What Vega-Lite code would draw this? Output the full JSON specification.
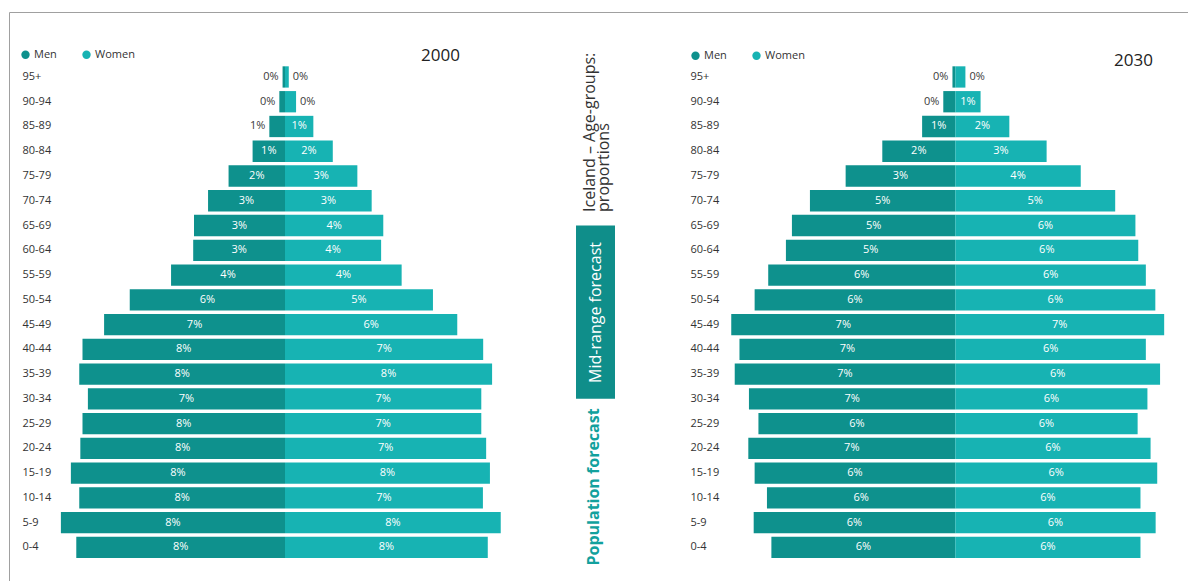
{
  "$schema": "https://vega.github.io/schema/vega-lite/v6.json",
  "width": 1179,
  "height": 569,
  "autosize": {"type": "none"},
  "padding": {"left": 9, "top": 12, "right": 0, "bottom": 0},
  "background": "white",
  "usermeta": {"embedOptions": {"actions": false}},
  "config": {
    "font": "Open Sans",
    "view": {"stroke": "#a0a0a0", "strokeWidth": 1}
  },
  "data": {
    "values": [
      {"year": 2000, "age": "95+", "sex": "Men", "value": 0.09, "label": "0%"},
      {"year": 2000, "age": "90-94", "sex": "Men", "value": 0.21, "label": "0%"},
      {"year": 2000, "age": "85-89", "sex": "Men", "value": 0.58, "label": "1%"},
      {"year": 2000, "age": "80-84", "sex": "Men", "value": 1.2, "label": "1%"},
      {"year": 2000, "age": "75-79", "sex": "Men", "value": 2.09, "label": "2%"},
      {"year": 2000, "age": "70-74", "sex": "Men", "value": 2.85, "label": "3%"},
      {"year": 2000, "age": "65-69", "sex": "Men", "value": 3.37, "label": "3%"},
      {"year": 2000, "age": "60-64", "sex": "Men", "value": 3.4, "label": "3%"},
      {"year": 2000, "age": "55-59", "sex": "Men", "value": 4.22, "label": "4%"},
      {"year": 2000, "age": "50-54", "sex": "Men", "value": 5.75, "label": "6%"},
      {"year": 2000, "age": "45-49", "sex": "Men", "value": 6.7, "label": "7%"},
      {"year": 2000, "age": "40-44", "sex": "Men", "value": 7.5, "label": "8%"},
      {"year": 2000, "age": "35-39", "sex": "Men", "value": 7.62, "label": "8%"},
      {"year": 2000, "age": "30-34", "sex": "Men", "value": 7.3, "label": "7%"},
      {"year": 2000, "age": "25-29", "sex": "Men", "value": 7.5, "label": "8%"},
      {"year": 2000, "age": "20-24", "sex": "Men", "value": 7.58, "label": "8%"},
      {"year": 2000, "age": "15-19", "sex": "Men", "value": 7.93, "label": "8%"},
      {"year": 2000, "age": "10-14", "sex": "Men", "value": 7.62, "label": "8%"},
      {"year": 2000, "age": "5-9", "sex": "Men", "value": 8.3, "label": "8%"},
      {"year": 2000, "age": "0-4", "sex": "Men", "value": 7.73, "label": "8%"},
      {"year": 2000, "age": "95+", "sex": "Women", "value": 0.14, "label": "0%"},
      {"year": 2000, "age": "90-94", "sex": "Women", "value": 0.41, "label": "0%"},
      {"year": 2000, "age": "85-89", "sex": "Women", "value": 1.05, "label": "1%"},
      {"year": 2000, "age": "80-84", "sex": "Women", "value": 1.77, "label": "2%"},
      {"year": 2000, "age": "75-79", "sex": "Women", "value": 2.68, "label": "3%"},
      {"year": 2000, "age": "70-74", "sex": "Women", "value": 3.21, "label": "3%"},
      {"year": 2000, "age": "65-69", "sex": "Women", "value": 3.64, "label": "4%"},
      {"year": 2000, "age": "60-64", "sex": "Women", "value": 3.56, "label": "4%"},
      {"year": 2000, "age": "55-59", "sex": "Women", "value": 4.32, "label": "4%"},
      {"year": 2000, "age": "50-54", "sex": "Women", "value": 5.48, "label": "5%"},
      {"year": 2000, "age": "45-49", "sex": "Women", "value": 6.38, "label": "6%"},
      {"year": 2000, "age": "40-44", "sex": "Women", "value": 7.34, "label": "7%"},
      {"year": 2000, "age": "35-39", "sex": "Women", "value": 7.67, "label": "8%"},
      {"year": 2000, "age": "30-34", "sex": "Women", "value": 7.27, "label": "7%"},
      {"year": 2000, "age": "25-29", "sex": "Women", "value": 7.27, "label": "7%"},
      {"year": 2000, "age": "20-24", "sex": "Women", "value": 7.45, "label": "7%"},
      {"year": 2000, "age": "15-19", "sex": "Women", "value": 7.59, "label": "8%"},
      {"year": 2000, "age": "10-14", "sex": "Women", "value": 7.33, "label": "7%"},
      {"year": 2000, "age": "5-9", "sex": "Women", "value": 7.99, "label": "8%"},
      {"year": 2000, "age": "0-4", "sex": "Women", "value": 7.51, "label": "8%"},
      {"year": 2030, "age": "95+", "sex": "Men", "value": 0.09, "label": "0%"},
      {"year": 2030, "age": "90-94", "sex": "Men", "value": 0.38, "label": "0%"},
      {"year": 2030, "age": "85-89", "sex": "Men", "value": 1.05, "label": "1%"},
      {"year": 2030, "age": "80-84", "sex": "Men", "value": 2.31, "label": "2%"},
      {"year": 2030, "age": "75-79", "sex": "Men", "value": 3.47, "label": "3%"},
      {"year": 2030, "age": "70-74", "sex": "Men", "value": 4.6, "label": "5%"},
      {"year": 2030, "age": "65-69", "sex": "Men", "value": 5.17, "label": "5%"},
      {"year": 2030, "age": "60-64", "sex": "Men", "value": 5.36, "label": "5%"},
      {"year": 2030, "age": "55-59", "sex": "Men", "value": 5.92, "label": "6%"},
      {"year": 2030, "age": "50-54", "sex": "Men", "value": 6.35, "label": "6%"},
      {"year": 2030, "age": "45-49", "sex": "Men", "value": 7.09, "label": "7%"},
      {"year": 2030, "age": "40-44", "sex": "Men", "value": 6.83, "label": "7%"},
      {"year": 2030, "age": "35-39", "sex": "Men", "value": 6.98, "label": "7%"},
      {"year": 2030, "age": "30-34", "sex": "Men", "value": 6.53, "label": "7%"},
      {"year": 2030, "age": "25-29", "sex": "Men", "value": 6.23, "label": "6%"},
      {"year": 2030, "age": "20-24", "sex": "Men", "value": 6.55, "label": "7%"},
      {"year": 2030, "age": "15-19", "sex": "Men", "value": 6.35, "label": "6%"},
      {"year": 2030, "age": "10-14", "sex": "Men", "value": 5.96, "label": "6%"},
      {"year": 2030, "age": "5-9", "sex": "Men", "value": 6.38, "label": "6%"},
      {"year": 2030, "age": "0-4", "sex": "Men", "value": 5.82, "label": "6%"},
      {"year": 2030, "age": "95+", "sex": "Women", "value": 0.32, "label": "0%"},
      {"year": 2030, "age": "90-94", "sex": "Women", "value": 0.8, "label": "1%"},
      {"year": 2030, "age": "85-89", "sex": "Women", "value": 1.71, "label": "2%"},
      {"year": 2030, "age": "80-84", "sex": "Women", "value": 2.89, "label": "3%"},
      {"year": 2030, "age": "75-79", "sex": "Women", "value": 3.97, "label": "4%"},
      {"year": 2030, "age": "70-74", "sex": "Women", "value": 5.06, "label": "5%"},
      {"year": 2030, "age": "65-69", "sex": "Women", "value": 5.7, "label": "6%"},
      {"year": 2030, "age": "60-64", "sex": "Women", "value": 5.79, "label": "6%"},
      {"year": 2030, "age": "55-59", "sex": "Women", "value": 6.03, "label": "6%"},
      {"year": 2030, "age": "50-54", "sex": "Women", "value": 6.33, "label": "6%"},
      {"year": 2030, "age": "45-49", "sex": "Women", "value": 6.61, "label": "7%"},
      {"year": 2030, "age": "40-44", "sex": "Women", "value": 6.03, "label": "6%"},
      {"year": 2030, "age": "35-39", "sex": "Women", "value": 6.48, "label": "6%"},
      {"year": 2030, "age": "30-34", "sex": "Women", "value": 6.08, "label": "6%"},
      {"year": 2030, "age": "25-29", "sex": "Women", "value": 5.77, "label": "6%"},
      {"year": 2030, "age": "20-24", "sex": "Women", "value": 6.18, "label": "6%"},
      {"year": 2030, "age": "15-19", "sex": "Women", "value": 6.39, "label": "6%"},
      {"year": 2030, "age": "10-14", "sex": "Women", "value": 5.86, "label": "6%"},
      {"year": 2030, "age": "5-9", "sex": "Women", "value": 6.34, "label": "6%"},
      {"year": 2030, "age": "0-4", "sex": "Women", "value": 5.86, "label": "6%"}
    ]
  },
  "layer": [
    {
      "transform": [
        {"filter": "datum.year === 2000"},
        {"calculate": "datum.sex === 'Men' ? -datum.value : datum.value", "as": "pos"},
        {"calculate": "datum.pos / 2", "as": "mid"}
      ],
      "encoding": {
        "y": {
          "field": "age",
          "type": "nominal",
          "scale": {
            "type": "band",
            "domain": ["95+", "90-94", "85-89", "80-84", "75-79", "70-74", "65-69", "60-64", "55-59", "50-54", "45-49", "40-44", "35-39", "30-34", "25-29", "20-24", "15-19", "10-14", "5-9", "0-4"],
            "range": [54.31, 546.06],
            "paddingInner": 0.14,
            "paddingOuter": 0
          },
          "axis": {
            "orient": "left",
            "title": null,
            "domain": false,
            "ticks": false,
            "tickSize": 0,
            "labelAlign": "left",
            "labelBaseline": "middle",
            "labelPadding": -13,
            "labelFontSize": 11,
            "labelColor": "#333333"
          }
        }
      },
      "layer": [
        {
          "mark": {"type": "bar"},
          "encoding": {
            "x": {"field": "pos", "type": "quantitative", "stack": null, "scale": {"domain": [-10.222, 33.444], "nice": false, "zero": false}, "axis": null},
            "color": {
              "field": "sex",
              "type": "nominal",
              "scale": {"domain": ["Men", "Women"], "range": ["#0e918d", "#17b3b3"]},
              "legend": {
                "orient": "none",
                "legendX": 11,
                "legendY": 37,
                "direction": "horizontal",
                "title": null,
                "symbolType": "circle",
                "symbolSize": 70,
                "symbolOpacity": 1,
                "symbolStrokeWidth": 0,
                "labelFontSize": 11,
                "labelColor": "#333333",
                "labelOffset": 3,
                "columnPadding": 24,
                "padding": 0
              }
            }
          }
        },
        {
          "transform": [{"filter": "datum.value >= 0.7"}],
          "mark": {"type": "text", "fontSize": 11, "fill": "#ffffff"},
          "encoding": {
            "x": {"field": "mid", "type": "quantitative", "scale": {"domain": [-10.222, 33.444], "nice": false, "zero": false}, "axis": null},
            "text": {"field": "label", "type": "nominal"}
          }
        },
        {
          "transform": [{"filter": "datum.value < 0.7 && datum.sex === 'Men'"}],
          "mark": {"type": "text", "fontSize": 11, "fill": "#3a3a3a", "align": "right", "dx": -4},
          "encoding": {
            "x": {"field": "pos", "type": "quantitative", "scale": {"domain": [-10.222, 33.444], "nice": false, "zero": false}, "axis": null},
            "text": {"field": "label", "type": "nominal"}
          }
        },
        {
          "transform": [{"filter": "datum.value < 0.7 && datum.sex === 'Women'"}],
          "mark": {"type": "text", "fontSize": 11, "fill": "#3a3a3a", "align": "left", "dx": 4},
          "encoding": {
            "x": {"field": "pos", "type": "quantitative", "scale": {"domain": [-10.222, 33.444], "nice": false, "zero": false}, "axis": null},
            "text": {"field": "label", "type": "nominal"}
          }
        },
        {
          "transform": [{"filter": "datum.sex === 'Men' && datum.age === '95+'"}],
          "mark": {"type": "text", "fontSize": 17, "fill": "#222222", "align": "right", "baseline": "middle", "dy": -20.5},
          "encoding": {
            "x": {"datum": 6.48, "type": "quantitative", "scale": {"domain": [-10.222, 33.444], "nice": false, "zero": false}, "axis": null},
            "text": {"field": "year", "type": "nominal"}
          }
        },
        {
          "transform": [{"filter": "datum.sex === 'Men' && datum.age === '95+'"}],
          "mark": {"type": "rect", "fill": "#0f8e8a"},
          "encoding": {
            "x": {"datum": 10.778, "type": "quantitative", "scale": {"domain": [-10.222, 33.444], "nice": false, "zero": false}, "axis": null},
            "x2": {"datum": 12.222},
            "y": {"datum": "65-69", "type": "nominal", "bandPosition": 0.5},
            "y2": {"datum": "30-34", "bandPosition": 0.5}
          }
        },
        {
          "transform": [{"filter": "datum.sex === 'Men' && datum.age === '95+'"}],
          "mark": {"type": "text", "text": "Iceland – Age-groups:", "angle": 270, "align": "left", "baseline": "middle", "fontSize": 16, "fill": "#333333", "dx": 13.6},
          "encoding": {
            "x": {"datum": 11.28, "type": "quantitative", "scale": {"domain": [-10.222, 33.444], "nice": false, "zero": false}, "axis": null},
            "y": {"datum": "65-69", "type": "nominal"}
          }
        },
        {
          "transform": [{"filter": "datum.sex === 'Men' && datum.age === '95+'"}],
          "mark": {"type": "text", "text": "proportions", "angle": 270, "align": "left", "baseline": "middle", "fontSize": 16, "fill": "#333333", "dx": 13.6},
          "encoding": {
            "x": {"datum": 11.8, "type": "quantitative", "scale": {"domain": [-10.222, 33.444], "nice": false, "zero": false}, "axis": null},
            "y": {"datum": "65-69", "type": "nominal"}
          }
        },
        {
          "transform": [{"filter": "datum.sex === 'Men' && datum.age === '95+'"}],
          "mark": {"type": "text", "text": "Mid-range forecast", "angle": 270, "align": "center", "baseline": "middle", "fontSize": 16, "fill": "#ffffff", "dx": -12.65},
          "encoding": {
            "x": {"datum": 11.52, "type": "quantitative", "scale": {"domain": [-10.222, 33.444], "nice": false, "zero": false}, "axis": null},
            "y": {"datum": "50-54", "type": "nominal"}
          }
        },
        {
          "transform": [{"filter": "datum.sex === 'Men' && datum.age === '95+'"}],
          "mark": {"type": "text", "text": "Population forecast", "angle": 270, "align": "center", "baseline": "middle", "fontSize": 16, "fontWeight": "bold", "fill": "#12a19d", "dx": -13.8},
          "encoding": {
            "x": {"datum": 11.444, "type": "quantitative", "scale": {"domain": [-10.222, 33.444], "nice": false, "zero": false}, "axis": null},
            "y": {"datum": "15-19", "type": "nominal"}
          }
        }
      ]
    },
    {
      "transform": [
        {"filter": "datum.year === 2030"},
        {"calculate": "datum.sex === 'Men' ? -datum.value : datum.value", "as": "pos"},
        {"calculate": "datum.pos / 2", "as": "mid"}
      ],
      "encoding": {
        "y": {
          "field": "age",
          "type": "nominal",
          "scale": {
            "type": "band",
            "domain": ["95+", "90-94", "85-89", "80-84", "75-79", "70-74", "65-69", "60-64", "55-59", "50-54", "45-49", "40-44", "35-39", "30-34", "25-29", "20-24", "15-19", "10-14", "5-9", "0-4"],
            "range": [54.31, 546.06],
            "paddingInner": 0.14,
            "paddingOuter": 0
          },
          "axis": {
            "orient": "right",
            "title": null,
            "domain": false,
            "ticks": false,
            "tickSize": 0,
            "labelAlign": "left",
            "labelBaseline": "middle",
            "labelPadding": -498,
            "labelFontSize": 11,
            "labelColor": "#333333"
          }
        }
      },
      "layer": [
        {
          "mark": {"type": "bar"},
          "encoding": {
            "x": {"field": "pos", "type": "quantitative", "stack": null, "scale": {"domain": [-29.946, 7.364], "nice": false, "zero": false}, "axis": null},
            "color": {
              "field": "sex",
              "type": "nominal",
              "scale": {"domain": ["Men", "Women"], "range": ["#0e918d", "#17b3b3"]},
              "legend": {
                "orient": "none",
                "legendX": 681,
                "legendY": 38,
                "direction": "horizontal",
                "title": null,
                "symbolType": "circle",
                "symbolSize": 70,
                "symbolOpacity": 1,
                "symbolStrokeWidth": 0,
                "labelFontSize": 11,
                "labelColor": "#333333",
                "labelOffset": 3,
                "columnPadding": 24,
                "padding": 0
              }
            }
          }
        },
        {
          "transform": [{"filter": "datum.value >= 0.7"}],
          "mark": {"type": "text", "fontSize": 11, "fill": "#ffffff"},
          "encoding": {
            "x": {"field": "mid", "type": "quantitative", "scale": {"domain": [-29.946, 7.364], "nice": false, "zero": false}, "axis": null},
            "text": {"field": "label", "type": "nominal"}
          }
        },
        {
          "transform": [{"filter": "datum.value < 0.7 && datum.sex === 'Men'"}],
          "mark": {"type": "text", "fontSize": 11, "fill": "#3a3a3a", "align": "right", "dx": -4},
          "encoding": {
            "x": {"field": "pos", "type": "quantitative", "scale": {"domain": [-29.946, 7.364], "nice": false, "zero": false}, "axis": null},
            "text": {"field": "label", "type": "nominal"}
          }
        },
        {
          "transform": [{"filter": "datum.value < 0.7 && datum.sex === 'Women'"}],
          "mark": {"type": "text", "fontSize": 11, "fill": "#3a3a3a", "align": "left", "dx": 4},
          "encoding": {
            "x": {"field": "pos", "type": "quantitative", "scale": {"domain": [-29.946, 7.364], "nice": false, "zero": false}, "axis": null},
            "text": {"field": "label", "type": "nominal"}
          }
        },
        {
          "transform": [{"filter": "datum.sex === 'Men' && datum.age === '95+'"}],
          "mark": {"type": "text", "fontSize": 17, "fill": "#222222", "align": "right", "baseline": "middle", "dy": -16},
          "encoding": {
            "x": {"datum": 6.256, "type": "quantitative", "scale": {"domain": [-29.946, 7.364], "nice": false, "zero": false}, "axis": null},
            "text": {"field": "year", "type": "nominal"}
          }
        }
      ]
    }
  ],
  "resolve": {"scale": {"x": "independent", "y": "independent", "color": "independent"}}
}
